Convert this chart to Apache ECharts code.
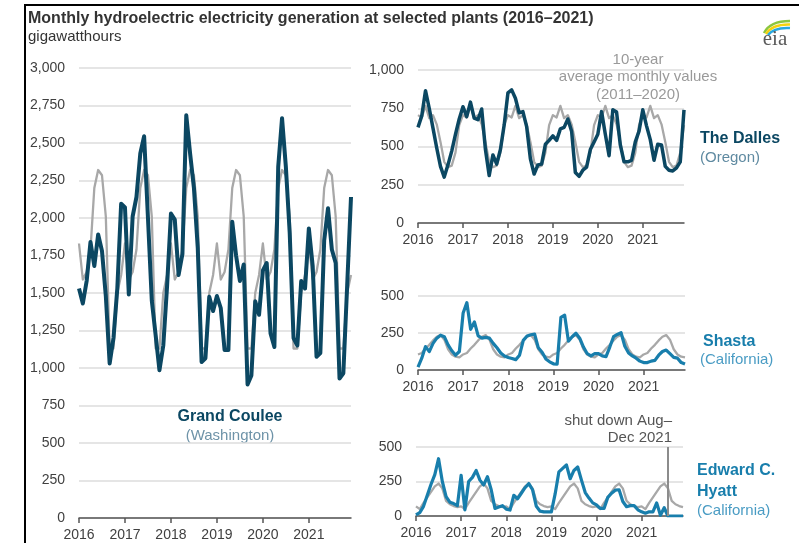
<!DOCTYPE html>
<html><head><meta charset="utf-8">
<script src="https://cdn.jsdelivr.net/npm/echarts@6/dist/echarts.min.js"></script>
<style>html,body{margin:0;padding:0;background:#fff}#c{width:799px;height:543px}</style>
</head><body><div id="c"></div>
<script>
// ---------- data ----------
const years = ['2016', '2017', '2018', '2019', '2020', '2021'];
const monthNums = ['01','02','03','04','05','06','07','08','09','10','11','12'];

// Grand Coulee (Washington), GWh
const gcActual = [
  1530, 1430, 1580, 1840, 1680, 1890, 1780, 1480, 1030, 1200, 1530, 2095,
  2070, 1490, 2010, 2140, 2430, 2545, 2000, 1450, 1220, 985, 1150, 1550,
  2030, 1990, 1620, 1760, 2685, 2430, 2200, 1800, 1040, 1065, 1475, 1380,
  1480, 1400, 1120, 1120, 1975, 1750, 1580, 1690, 890, 950, 1445, 1355,
  1650, 1700, 1230, 1140, 2340, 2665, 2340, 1900, 1200, 1150, 1580, 1530,
  1930, 1680, 1075, 1100, 1850, 2065, 1790, 1700, 930, 965, 1550, 2140
];
const gcAvg = [1830, 1590, 1640, 1790, 2200, 2320, 2285, 2010, 1130, 1130, 1500, 1620];

// The Dalles (Oregon)
const tdActual = [
  625, 700, 865, 750, 620, 490, 370, 300, 380, 470, 580, 680,
  760, 695, 790, 685, 675, 745, 480, 310, 445, 385, 480, 640,
  850, 870, 815, 720, 728, 630, 420, 320, 380, 385, 515, 540,
  570, 540, 615, 625, 680, 600, 330, 305, 345, 365, 480, 530,
  580, 728, 580, 440, 740, 725, 510, 400, 400, 410, 530, 600,
  740, 635, 545, 410, 515, 510, 370, 345, 340, 360, 400, 740
];
const tdAvg = [705, 690, 765, 685, 705, 645, 530, 400, 365, 375, 460, 640];

// Shasta (California)
const shActual = [
  20, 80, 158, 124, 180, 215, 235, 225, 170, 130, 100, 125,
  385, 455, 275, 325, 230, 215, 220, 215, 180, 150, 115, 95,
  85, 78, 70, 100, 200, 230, 238, 243, 150, 120, 75, 55,
  42, 40, 355, 370, 195, 225, 248, 215, 155, 110, 95, 110,
  110, 95, 90, 155, 225, 240, 252, 160, 115, 95, 80, 60,
  50, 50, 60, 65, 100, 125, 135, 110, 85, 80, 50, 40
];
const shAvg = [105, 115, 145, 170, 200, 225, 236, 205, 140, 105, 90, 85];

// Edward C. Hyatt (California)
const hyActual = [
  8, 25, 70, 150, 230, 300, 415, 250, 140, 100, 90, 75,
  295, 45, 250, 280, 330, 260, 225, 285, 190, 55, 65, 75,
  50, 43, 150, 125, 165, 205, 235, 190, 70, 35, 30, 30,
  30, 160, 320, 345, 370, 270, 330, 355, 260, 170, 130, 95,
  80, 55, 55, 135, 165, 187, 190, 105, 67, 75, 75, 45,
  30, 20, 30, 30, 95, 5, 60, 0, 0, 0, 0, 0
];
const hyAvg = [70, 50, 95, 135, 175, 215, 235, 200, 110, 85, 72, 65];
const shutdownMonth = '2021-08';

// ---------- build ----------
const categories = [];
years.forEach(y => monthNums.forEach(m => categories.push(y + '-' + m)));
const repeatAvg = a => years.flatMap(() => a);

const F = '"Liberation Sans", Arial, sans-serif';
const NAVY = '#0b4762';
const TEAL = '#187eac';
const GRAY = '#a8a8a8';
const TXT = '#404040';

const isYearStart = (i) => i % 12 === 0;

function xAx(g) {
  return {
    type: 'category', gridIndex: g, data: categories, boundaryGap: false,
    axisLine: {lineStyle: {color: '#555', width: 1.5}},
    axisTick: {interval: isYearStart, length: 5, lineStyle: {color: '#555', width: 1.5}},
    axisLabel: {interval: isYearStart, formatter: v => v.slice(0, 4), color: TXT, fontSize: 14, fontFamily: F, margin: 10},
    splitLine: {show: false}
  };
}
function yAx(g, max) {
  return {
    type: 'value', gridIndex: g, min: 0, max: max, interval: 250,
    axisLine: {show: false}, axisTick: {show: false},
    axisLabel: {formatter: v => v.toLocaleString('en-US'), color: TXT, fontSize: 14, fontFamily: F, margin: 14},
    splitLine: {lineStyle: {color: '#dcdcdc', width: 1.5}}
  };
}
function ln(g, data, color, width, z, extra) {
  return Object.assign({
    type: 'line', xAxisIndex: g, yAxisIndex: g, data: data, symbol: 'none', showSymbol: false,
    lineStyle: {color: color, width: width, join: 'round'}, itemStyle: {color: color}, z: z, animation: false, silent: true
  }, extra || {});
}

function txt(x, y, text, font, fill, align) {
  return {type: 'text', x: x, y: y, silent: true,
    style: {text: text, font: font, fill: fill, textAlign: align || 'left', textVerticalAlign: 'middle'}};
}

const chart = echarts.init(document.getElementById('c'), null, {renderer: 'canvas'});
chart.setOption({
  animation: false,
  backgroundColor: '#fff',
  grid: [
    {left: 79, right: 448, top: 68, bottom: 25},
    {left: 418, right: 115, top: 70, bottom: 320},
    {left: 418, right: 114, top: 296, bottom: 173},
    {left: 416, right: 116, top: 447, bottom: 27}
  ],
  xAxis: [xAx(0), xAx(1), xAx(2), xAx(3)],
  yAxis: [yAx(0, 3000), yAx(1, 1000), yAx(2, 500), yAx(3, 500)],
  series: [
    ln(0, repeatAvg(gcAvg), GRAY, 2.3, 2),
    ln(0, gcActual, NAVY, 4, 3),
    ln(1, repeatAvg(tdAvg), GRAY, 2.3, 2),
    ln(1, tdActual, NAVY, 3.5, 3),
    ln(2, repeatAvg(shAvg), GRAY, 2.3, 2),
    ln(2, shActual, TEAL, 3.2, 3),
    ln(3, repeatAvg(hyAvg), GRAY, 2.3, 2),
    ln(3, hyActual, TEAL, 3.2, 3, {
      markLine: {
        silent: true, symbol: ['none', 'none'], label: {show: false},
        lineStyle: {color: '#8c8c8c', width: 2, type: 'solid'},
        data: [[{coord: [shutdownMonth, 500]}, {coord: [shutdownMonth, 0]}]]
      }
    })
  ],
  graphic: [
    {type: 'line', silent: true, shape: {x1: 25, y1: 5, x2: 799, y2: 5}, style: {stroke: '#000', lineWidth: 2}},
    {type: 'line', silent: true, shape: {x1: 25, y1: 4, x2: 25, y2: 543}, style: {stroke: '#000', lineWidth: 2}},
    txt(28, 19, 'Monthly hydroelectric electricity generation at selected plants (2016\u20132021)', 'bold 16px ' + F, '#333'),
    txt(28, 37, 'gigawatthours', '15px ' + F, '#333'),
    txt(230, 417, 'Grand Coulee', 'bold 16px ' + F, NAVY, 'center'),
    txt(230, 436, '(Washington)', '15px ' + F, '#6e93a8', 'center'),
    txt(700, 139, 'The Dalles', 'bold 16px ' + F, NAVY),
    txt(700, 158, '(Oregon)', '15px ' + F, '#5f8aa1'),
    txt(703, 342, 'Shasta', 'bold 16px ' + F, TEAL),
    txt(700, 360, '(California)', '15px ' + F, '#4a9cc4'),
    txt(697, 471, 'Edward C.', 'bold 16px ' + F, TEAL),
    txt(697, 492, 'Hyatt', 'bold 16px ' + F, TEAL),
    txt(697, 511, '(California)', '15px ' + F, '#4a9cc4'),
    txt(638, 60, '10-year', '15px ' + F, '#9a9a9a', 'center'),
    txt(638, 77, 'average monthly values', '15px ' + F, '#9a9a9a', 'center'),
    txt(638, 95, '(2011\u20132020)', '15px ' + F, '#9a9a9a', 'center'),
    txt(672, 421, 'shut down Aug\u2013', '15px ' + F, '#555', 'right'),
    txt(672, 438, 'Dec 2021', '15px ' + F, '#555', 'right'),
    // eia logo
    {type: 'bezierCurve', silent: true, shape: {x1: 764, y1: 33, cpx1: 770, cpy1: 21, x2: 790, y2: 21}, style: {stroke: '#8cc63f', lineWidth: 2.5, fill: null}},
    {type: 'bezierCurve', silent: true, shape: {x1: 766, y1: 34, cpx1: 772, cpy1: 24, x2: 790, y2: 24.5}, style: {stroke: '#f5d20f', lineWidth: 2.5, fill: null}},
    {type: 'bezierCurve', silent: true, shape: {x1: 768, y1: 35, cpx1: 774, cpy1: 27, x2: 790, y2: 28}, style: {stroke: '#29a8e0', lineWidth: 2.5, fill: null}},
    txt(775, 39, 'eia', '21px "Liberation Serif", "DejaVu Serif", serif', '#5a5a5a', 'center')
  ]
});
</script>
</body></html>
